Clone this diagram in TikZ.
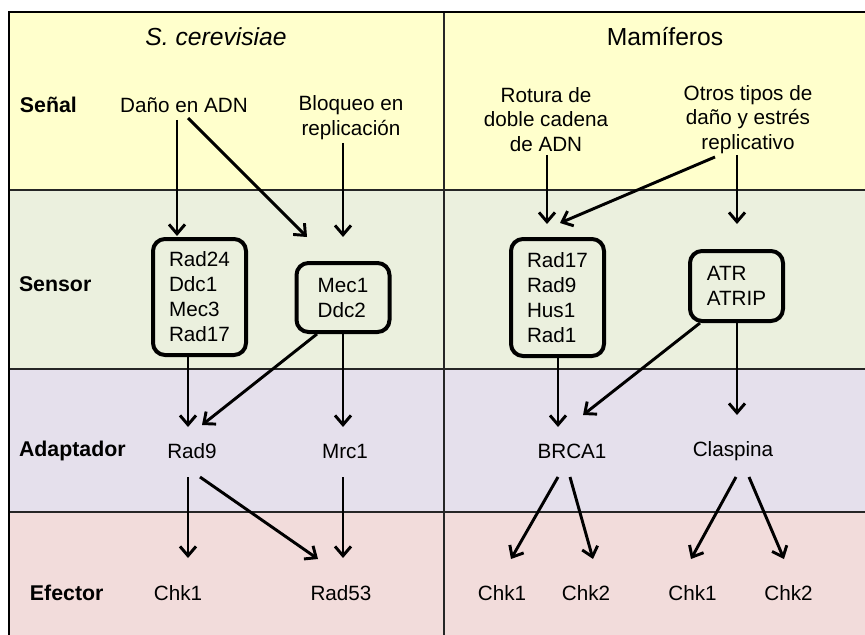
\documentclass[tikz,border=0pt]{standalone}
\usepackage{fontspec}
\setmainfont{Liberation Sans}
\usetikzlibrary{
    arrows.meta,
    calc,
    positioning
}
\definecolor{senalband}{HTML}{FFFFCC}
\definecolor{sensorband}{HTML}{EBF0DE}
\definecolor{adaptband}{HTML}{E5E0EC}
\definecolor{efectband}{HTML}{F2DCDB}
\tikzset{
    every picture/.style = {
        > = {Straight Barb[length = 7pt, width = 12pt]},
        x = 0.75pt,
        y = -0.75pt
    },
    every node/.style = {
        inner sep = 0pt,
        outer sep = 0pt,
        align = center,
        font = \fontsize{15.5}{18.5}\selectfont
    },
    band/.style = {draw = black!85, line width = 1.5pt},
    rowlabel/.style = {
        anchor = west,
        font = \fontsize{16}{19}\selectfont\bfseries
    },
    title/.style = {font = \fontsize{18.5}{22}\selectfont},
    protbox/.style = {
        draw,
        line width = 3pt,
        rounded corners = 9pt,
        outer sep = 1.5pt,
        minimum width = 69.75pt,
        align = left,
        font = \fontsize{15.5}{18.75}\selectfont
    },
    flow/.style = {->, line width = 2.2pt}
}

\begin{document}
\begin{tikzpicture}
    \useasboundingbox (0, 0) rectangle (865, 635);
    \clip (0, 0) rectangle (865, 635);

    % bands
    \foreach \ya/\yb/\col in {12/190/senalband, 190/369/sensorband, 369/512/adaptband, 512/640/efectband}
        \fill[\col] (9, \ya) rectangle (870, \yb);
    \foreach \yy in {190, 369, 512}
        \draw[band] (9, \yy) -- (870, \yy);
    \draw[band] (444, 12) -- (444, 640);
    \draw[line width = 1.8pt] (9, 640) -- (9, 12) -- (870, 12);

    \node[title] (cer) at (216, 37) {\itshape S. cerevisiae};
    \node[title] (mam) at (665, 37) {Mamíferos};

    \node[rowlabel] (senal) at (20, 105) {Señal};
    \node[rowlabel] (sensor) at (19, 284) {Sensor};
    \node[rowlabel] (adapt) at (19, 451) {Adaptador};
    \node[rowlabel] (efect) at (30, 593) {Efector};

    % señal
    \node (dano) at (184, 105) {Daño en ADN};
    \node (bloqueo) at (351, 117.5) {Bloqueo en \\ replicación};
    \node (rotura) at (546, 119.5) {Rotura de \\ doble cadena \\ de ADN};
    \node (otros) at (748, 119.5) {Otros tipos de \\ daño y estrés \\ replicativo};

    % sensor
    \node[protbox, minimum height = 87pt] (rad24) at (199.5, 297) {Rad24 \\ Ddc1 \\ Mec3 \\ Rad17};
    \node[protbox, minimum height = 51.75pt] (mec1) at (343, 297.5) {Mec1 \\ Ddc2};
    \node[protbox, minimum height = 87.75pt] (rad17) at (557.5, 297.5) {Rad17 \\ Rad9 \\ Hus1 \\ Rad1};
    \node[protbox, minimum height = 52.5pt] (atr) at (736.5, 286) {ATR \\ ATRIP};

    % adaptador
    \node (rad9) at (192, 451) {Rad9};
    \node (mrc1) at (345, 451) {Mrc1};
    \node (brca) at (572, 451) {BRCA1};
    \node (clasp) at (733, 451) {Claspina};

    % efector
    \node (chka) at (178, 593) {Chk1};
    \node (rad53) at (341, 593) {Rad53};
    \node (chkb) at (502, 593) {Chk1};
    \node (chkbb) at (586, 593) {Chk2};
    \node (chkc) at (692.5, 593) {Chk1};
    \node (chkcc) at (788.5, 593) {Chk2};

    \draw[flow] ($(dano) + (-7, 15)$) -- ($(rad24.north) + (-22.5, -1)$);
    \draw[flow] ($(dano) + (4, 13)$) -- ($(mec1.north) + (-36, -24)$);
    \draw[flow] ($(bloqueo) + (-8, 25.5)$) -- ($(mec1.north) + (0, -24)$);
    \draw[flow] ($(rotura) + (1, 35.5)$) -- ($(rad17.north) + (-10.5, -13)$);
    \draw[flow] ($(otros) + (-33, 37.5)$) -- ($(rad17.north) + (2.5, -14)$);
    \draw[flow] ($(otros) + (-11, 35.5)$) -- ($(atr.north) + (0.5, -25)$);

    \draw[flow] ($(rad24.south) + (-11.5, 0)$) -- ($(rad9) + (-4, -24)$);
    \draw[flow] ($(mec1.south) + (-26, 0)$) -- ($(rad9) + (10, -26)$);
    \draw[flow] (mec1.south) -- ($(mrc1) + (-2, -24)$);
    \draw[flow] ($(rad17.south) + (0.5, 0)$) -- ($(brca) + (-14, -24)$);
    \draw[flow] ($(atr.south) + (-36.5, 0)$) -- ($(brca) + (11, -36)$);
    \draw[flow] ($(atr.south) + (0.5, 0)$) -- ($(clasp) + (4, -36)$);

    \draw[flow] ($(rad9) + (-4, 26)$) -- ($(chka) + (10, -35)$);
    \draw[flow] ($(rad9) + (8, 26)$) -- ($(rad53) + (-23, -34)$);
    \draw[flow] ($(mrc1) + (-2, 26)$) -- ($(rad53) + (2, -35)$);
    \draw[flow] ($(brca) + (-14, 26)$) -- ($(chkb) + (9, -34)$);
    \draw[flow] ($(brca) + (-2, 26)$) -- ($(chkbb) + (7, -34)$);
    \draw[flow] ($(clasp) + (3, 26)$) -- ($(chkc) + (-1.5, -34)$);
    \draw[flow] ($(clasp) + (16, 26)$) -- ($(chkcc) + (-4.5, -34)$);
\end{tikzpicture}
\end{document}
